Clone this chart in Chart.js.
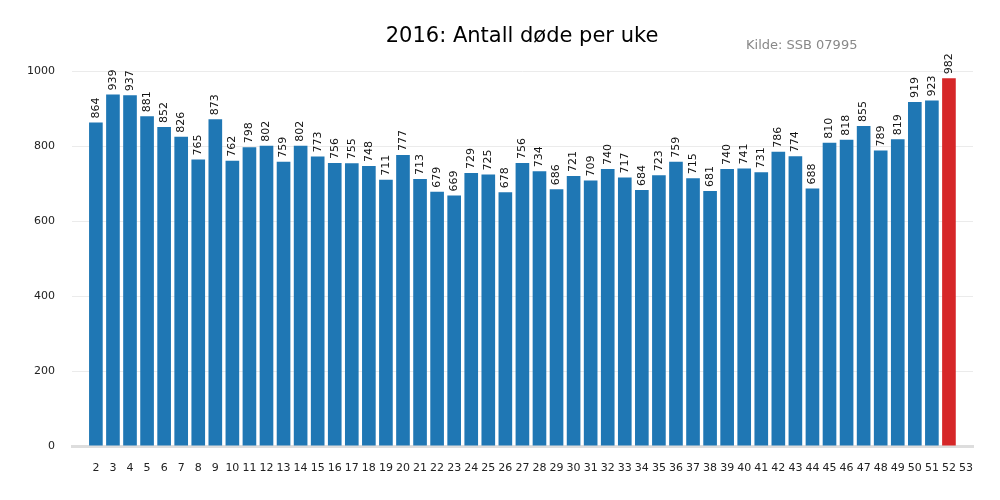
<!DOCTYPE html>
<html>
<head>
<meta charset="utf-8">
<script src="https://cdn.jsdelivr.net/npm/chart.js@4/dist/chart.umd.min.js"></script>
<style>
html,body{margin:0;padding:0;background:#fff;}
#wrap{width:1000px;height:500px;position:relative;}
</style>
</head>
<body>
<div id="wrap"><canvas id="c" width="1000" height="500"></canvas></div>
<script>
const weeks = [2,3,4,5,6,7,8,9,10,11,12,13,14,15,16,17,18,19,20,21,22,23,24,25,26,27,28,29,30,31,32,33,34,35,36,37,38,39,40,41,42,43,44,45,46,47,48,49,50,51,52];
const deaths = [864,939,937,881,852,826,765,873,762,798,802,759,802,773,756,755,748,711,777,713,679,669,729,725,678,756,734,686,721,709,740,717,684,723,759,715,681,740,741,731,786,774,688,810,818,855,789,819,919,923,982];
const tickWeeks = [2,3,4,5,6,7,8,9,10,11,12,13,14,15,16,17,18,19,20,21,22,23,24,25,26,27,28,29,30,31,32,33,34,35,36,37,38,39,40,41,42,43,44,45,46,47,48,49,50,51,52,53];
const yTicks = [0,200,400,600,800,1000];
const titleText = "2016: Antall døde per uke";
const sourceText = "Kilde: SSB 07995";

const FONT = "'DejaVu Sans', sans-serif";
const barColors = deaths.map((v,i)=> i===deaths.length-1 ? '#d62728' : '#1f77b4');

const labelPlugin = {
  id:'labels',
  afterDatasetsDraw(chart){
    const ctx = chart.ctx;
    const meta = chart.getDatasetMeta(0);
    ctx.save();
    ctx.font = "11px " + FONT;
    ctx.fillStyle = '#111';
    ctx.textAlign = 'left';
    ctx.textBaseline = 'middle';
    meta.data.forEach((el,i)=>{
      ctx.save();
      ctx.translate(el.x, el.y - 4);
      ctx.rotate(-Math.PI/2);
      ctx.fillText(String(deaths[i]), 0, 0);
      ctx.restore();
    });
    ctx.restore();
  }
};
const titlePlugin = {
  id:'titles',
  afterDraw(chart){
    const ctx = chart.ctx;
    ctx.save();
    ctx.textBaseline = 'middle';
    ctx.textAlign = 'center';
    ctx.fillStyle = '#000';
    ctx.font = "21px " + FONT;
    ctx.fillText(titleText, 522, 37);
    ctx.textAlign = 'left';
    ctx.fillStyle = '#888';
    ctx.font = "13px " + FONT;
    ctx.fillText(sourceText, 746, 46);
    ctx.restore();
  }
};

new Chart(document.getElementById('c'), {
  type:'bar',
  data:{
    datasets:[{
      data: weeks.map((w,i)=>({x:w,y:deaths[i]})),
      backgroundColor: barColors,
      borderWidth:0,
      barPercentage:0.8,
      categoryPercentage:1.0
    }]
  },
  options:{
    responsive:false,
    animation:false,
    layout:{padding:{left:0,right:27,top:60,bottom:0}},
    plugins:{legend:{display:false},tooltip:{enabled:false},title:{display:false}},
    scales:{
      x:{
        type:'linear',
        min:0.6, max:53.41,
        offset:false,
        grid:{display:false, drawTicks:false},
        border:{display:true,color:'#dddddd',width:3},
        ticks:{font:{family:FONT,size:11},color:'#222',padding:16,maxRotation:0,autoSkip:false},
        afterBuildTicks(scale){ scale.ticks = tickWeeks.map(v=>({value:v})); },
        afterFit(scale){ scale.height = 54; }
      },
      y:{
        min:0, max:1031,
        grid:{color:'#ebebeb',lineWidth:1,drawTicks:false},
        border:{display:false},
        ticks:{font:{family:FONT,size:11},color:'#222',padding:17,callback:(v)=>String(v)},
        afterBuildTicks(scale){ scale.ticks = yTicks.map(v=>({value:v})); },
        afterFit(scale){ scale.width = 72; }
      }
    }
  },
  plugins:[labelPlugin,titlePlugin]
});
</script>
</body>
</html>
